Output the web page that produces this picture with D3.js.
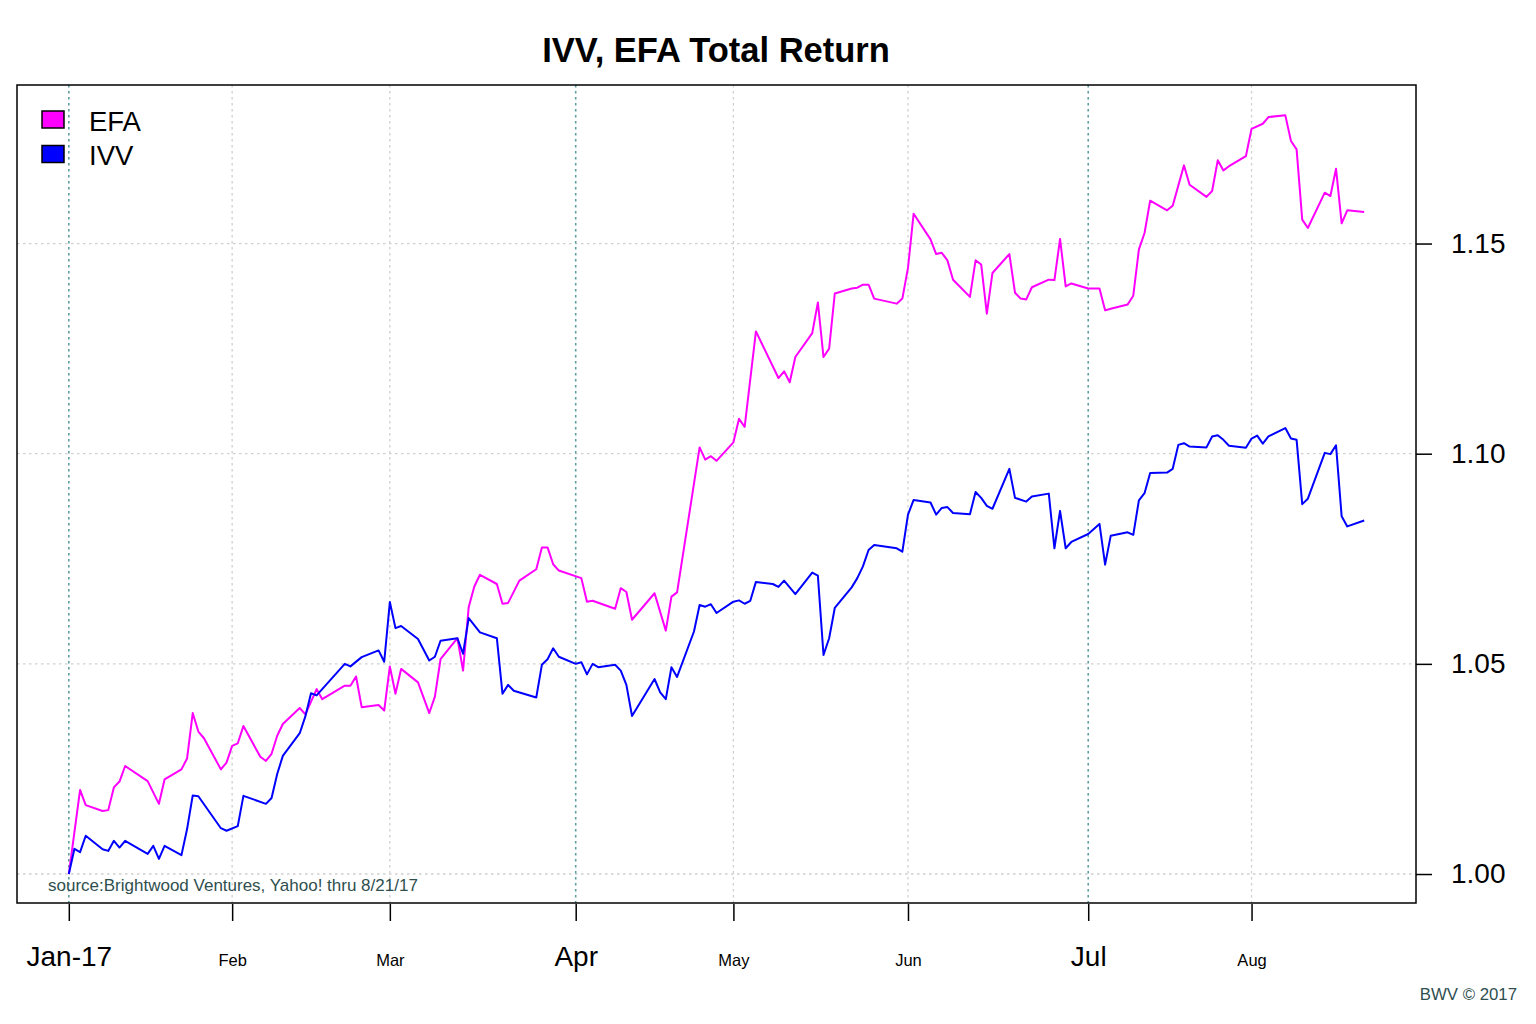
<!DOCTYPE html>
<html>
<head>
<meta charset="utf-8">
<script src="https://cdnjs.cloudflare.com/ajax/libs/d3/7.8.5/d3.min.js"></script>
<style>
  body { margin: 0; background: #fff; }
  svg text { font-family: "Liberation Sans", Arial, sans-serif; }
</style>
</head>
<body>
<svg class="svg1" width="1536" height="1024"></svg>
<script>

// DATA (growth of 1)

var efaDates = [
  "2017-01-03","2017-01-05","2017-01-06","2017-01-09","2017-01-10","2017-01-11","2017-01-12","2017-01-13","2017-01-17","2017-01-19",
  "2017-01-20","2017-01-23","2017-01-24","2017-01-25","2017-01-26","2017-01-27","2017-01-30","2017-01-31",
  "2017-02-01","2017-02-02","2017-02-03","2017-02-06","2017-02-07","2017-02-08","2017-02-09","2017-02-10","2017-02-13","2017-02-14",
  "2017-02-16","2017-02-17","2017-02-21","2017-02-22","2017-02-23","2017-02-24","2017-02-27","2017-02-28",
  "2017-03-01","2017-03-02","2017-03-03","2017-03-06","2017-03-08","2017-03-09","2017-03-10","2017-03-13","2017-03-14","2017-03-15",
  "2017-03-16","2017-03-17","2017-03-20","2017-03-21","2017-03-22","2017-03-24","2017-03-27","2017-03-28","2017-03-29","2017-03-30","2017-03-31",
  "2017-04-04","2017-04-05","2017-04-06","2017-04-10","2017-04-11","2017-04-12","2017-04-13","2017-04-17","2017-04-19","2017-04-20",
  "2017-04-21","2017-04-25","2017-04-26","2017-04-27","2017-04-28",
  "2017-05-01","2017-05-02","2017-05-03","2017-05-05","2017-05-09","2017-05-10","2017-05-11","2017-05-12","2017-05-15","2017-05-16",
  "2017-05-17","2017-05-18","2017-05-19","2017-05-22","2017-05-23","2017-05-24","2017-05-25","2017-05-26","2017-05-30","2017-05-31",
  "2017-06-01","2017-06-02","2017-06-05","2017-06-06","2017-06-07","2017-06-08","2017-06-09","2017-06-12","2017-06-13","2017-06-14",
  "2017-06-15","2017-06-16","2017-06-19","2017-06-20","2017-06-21","2017-06-22","2017-06-23","2017-06-26","2017-06-27","2017-06-28",
  "2017-06-29","2017-06-30",
  "2017-07-03","2017-07-05","2017-07-06","2017-07-07","2017-07-10","2017-07-11","2017-07-12","2017-07-13","2017-07-14","2017-07-17",
  "2017-07-18","2017-07-20","2017-07-21","2017-07-24","2017-07-25","2017-07-26","2017-07-27","2017-07-28","2017-07-31",
  "2017-08-01","2017-08-03","2017-08-04","2017-08-07","2017-08-08","2017-08-09","2017-08-10","2017-08-11","2017-08-14","2017-08-15",
  "2017-08-16","2017-08-17","2017-08-18","2017-08-21"
];
var efaValues = [
  1.0000,1.0200,1.0164,1.0150,1.0152,1.0206,1.0220,1.0257,1.0221,1.0167,
  1.0225,1.0249,1.0275,1.0383,1.0339,1.0323,1.0249,1.0265,
  1.0305,1.0311,1.0352,1.0279,1.0269,1.0286,1.0329,1.0357,1.0395,1.0380,
  1.0440,1.0416,1.0448,1.0448,1.0470,1.0397,1.0402,1.0389,
  1.0494,1.0429,1.0488,1.0456,1.0383,1.0422,1.0511,1.0561,1.0484,1.0635,
  1.0684,1.0712,1.0690,1.0643,1.0645,1.0698,1.0725,1.0777,1.0777,1.0737,1.0722,
  1.0704,1.0648,1.0650,1.0631,1.0680,1.0671,1.0605,1.0668,1.0579,1.0660,
  1.0670,1.1015,1.0986,1.0994,1.0983,
  1.1027,1.1083,1.1064,1.1291,1.1180,1.1196,1.1170,1.1230,1.1287,1.1360,
  1.1230,1.1250,1.1381,1.1393,1.1395,1.1402,1.1402,1.1369,1.1357,1.1369,
  1.1442,1.1571,1.1510,1.1475,1.1478,1.1460,1.1414,1.1373,1.1460,1.1450,
  1.1333,1.1430,1.1475,1.1383,1.1369,1.1367,1.1396,1.1414,1.1413,1.1511,
  1.1398,1.1405,
  1.1393,1.1393,1.1341,1.1345,1.1355,1.1376,1.1486,1.1525,1.1602,1.1579,
  1.1590,1.1686,1.1640,1.1611,1.1625,1.1698,1.1674,1.1684,1.1708,
  1.1773,1.1785,1.1801,1.1805,1.1744,1.1724,1.1557,1.1537,1.1621,1.1613,
  1.1678,1.1548,1.1579,1.1575
];

var ivvDates = [
  "2017-01-03","2017-01-04","2017-01-05","2017-01-06","2017-01-09","2017-01-10","2017-01-11","2017-01-12","2017-01-13","2017-01-17",
  "2017-01-18","2017-01-19","2017-01-20","2017-01-23","2017-01-24","2017-01-25","2017-01-26","2017-01-30","2017-01-31",
  "2017-02-02","2017-02-03","2017-02-07","2017-02-08","2017-02-09","2017-02-10","2017-02-13","2017-02-14","2017-02-15","2017-02-16",
  "2017-02-21","2017-02-22","2017-02-24","2017-02-27","2017-02-28",
  "2017-03-01","2017-03-02","2017-03-03","2017-03-06","2017-03-08","2017-03-09","2017-03-10","2017-03-13","2017-03-14","2017-03-15",
  "2017-03-17","2017-03-20","2017-03-21","2017-03-22","2017-03-23","2017-03-27","2017-03-28","2017-03-29","2017-03-30","2017-03-31",
  "2017-04-03","2017-04-04","2017-04-05","2017-04-06","2017-04-07","2017-04-10","2017-04-11","2017-04-12","2017-04-13","2017-04-17",
  "2017-04-18","2017-04-19","2017-04-20","2017-04-21","2017-04-24","2017-04-25","2017-04-26","2017-04-27","2017-04-28",
  "2017-05-01","2017-05-02","2017-05-03","2017-05-04","2017-05-05","2017-05-08","2017-05-09","2017-05-10","2017-05-12","2017-05-15",
  "2017-05-16","2017-05-17","2017-05-18","2017-05-19","2017-05-22","2017-05-23","2017-05-24","2017-05-25","2017-05-26","2017-05-30","2017-05-31",
  "2017-06-01","2017-06-02","2017-06-05","2017-06-06","2017-06-07","2017-06-08","2017-06-09","2017-06-12","2017-06-13","2017-06-14",
  "2017-06-15","2017-06-16","2017-06-19","2017-06-20","2017-06-22","2017-06-23","2017-06-26","2017-06-27","2017-06-28","2017-06-29","2017-06-30",
  "2017-07-03","2017-07-05","2017-07-06","2017-07-07","2017-07-10","2017-07-11","2017-07-12","2017-07-13","2017-07-14","2017-07-17",
  "2017-07-18","2017-07-19","2017-07-20","2017-07-21","2017-07-24","2017-07-25","2017-07-26","2017-07-27","2017-07-28","2017-07-31",
  "2017-08-01","2017-08-02","2017-08-03","2017-08-04","2017-08-07","2017-08-08","2017-08-09","2017-08-10","2017-08-11","2017-08-14",
  "2017-08-15","2017-08-16","2017-08-17","2017-08-18","2017-08-21"
];
var ivvValues = [
  1.0000,1.0060,1.0052,1.0091,1.0059,1.0055,1.0079,1.0063,1.0079,1.0048,
  1.0067,1.0036,1.0067,1.0045,1.0107,1.0187,1.0185,1.0109,1.0103,
  1.0114,1.0186,1.0167,1.0181,1.0238,1.0281,1.0335,1.0375,1.0430,1.0425,
  1.0500,1.0494,1.0516,1.0532,1.0505,
  1.0647,1.0585,1.0590,1.0559,1.0508,1.0517,1.0555,1.0561,1.0524,1.0609,
  1.0575,1.0561,1.0429,1.0450,1.0436,1.0420,1.0498,1.0511,1.0537,1.0517,
  1.0500,1.0504,1.0475,1.0500,1.0492,1.0498,1.0484,1.0450,1.0376,1.0464,
  1.0432,1.0416,1.0492,1.0469,1.0577,1.0640,1.0636,1.0642,1.0621,
  1.0648,1.0651,1.0643,1.0650,1.0695,1.0690,1.0683,1.0698,1.0666,1.0717,
  1.0710,1.0521,1.0561,1.0633,1.0682,1.0704,1.0732,1.0771,1.0783,1.0775,1.0767,
  1.0855,1.0890,1.0884,1.0855,1.0871,1.0873,1.0859,1.0856,1.0909,1.0895,
  1.0876,1.0869,1.0964,1.0895,1.0886,1.0898,1.0905,1.0775,1.0864,1.0775,1.0790,
  1.0809,1.0833,1.0736,1.0805,1.0813,1.0807,1.0889,1.0906,1.0954,1.0955,
  1.0964,1.1021,1.1025,1.1017,1.1015,1.1041,1.1044,1.1033,1.1019,1.1014,
  1.1036,1.1043,1.1024,1.1041,1.1061,1.1036,1.1033,1.0880,1.0893,1.1002,
  1.0999,1.1020,1.0851,1.0827,1.0841
];

// x axis ticks: first trading day of each month, quarters are the big ones
var tickDates  = ["2017-01-03","2017-02-01","2017-03-01","2017-04-03","2017-05-01","2017-06-01","2017-07-03","2017-08-01"];
var tickLabels = ["Jan-17","Feb","Mar","Apr","May","Jun","Jul","Aug"];
var tickMajor  = [true, false, false, true, false, false, true, false];

var yTicks = [1.00, 1.05, 1.10, 1.15];

var seriesNames  = ["EFA", "IVV"];
var seriesColors = ["#ff00ff", "#0000ff"];

// FUNCTIONS

var parseDate = d3.timeParse("%Y-%m-%d");

var efa = efaDates.map(function(d, i) { return {date: parseDate(d), value: efaValues[i]}; });
var ivv = ivvDates.map(function(d, i) { return {date: parseDate(d), value: ivvValues[i]}; });

var plotLeft = 17, plotRight = 1416, plotTop = 85, plotBottom = 903;

// plot range is the data range padded 4% each side (a bit less below)
var allDates = efa.concat(ivv).map(function(d) { return d.date; });
var allVals = efa.concat(ivv).map(function(d) { return d.value; });
var dExt = d3.extent(allDates);
var vExt = d3.extent(allVals);
var dPad = (dExt[1] - dExt[0]) * 0.04;
var vPad = (vExt[1] - vExt[0]) * 0.04;

var xScale = d3.scaleTime()
  .domain([new Date(+dExt[0] - dPad), new Date(+dExt[1] + dPad)])
  .range([plotLeft, plotRight]);

var yScale = d3.scaleLinear()
  .domain([vExt[0] - vPad * 0.955, vExt[1] + vPad])
  .range([plotBottom, plotTop]);

var svg = d3.select(".svg1");

// title
svg.append("text")
  .attr("x", 716)
  .attr("y", 62)
  .attr("text-anchor", "middle")
  .style("font-size", "34.5px")
  .style("font-weight", "bold")
  .text("IVV, EFA Total Return");

// GRID

svg.append("g")
  .selectAll("line")
  .data(yTicks)
  .enter()
  .append("line")
  .attr("x1", plotLeft)
  .attr("x2", plotRight)
  .attr("y1", function(d) { return yScale(d); })
  .attr("y2", function(d) { return yScale(d); })
  .style("stroke", "#cfcfcf")
  .style("stroke-width", 1.3)
  .style("stroke-dasharray", "2.5,3.5");

svg.append("g")
  .selectAll("line")
  .data(tickDates)
  .enter()
  .append("line")
  .attr("x1", function(d) { return xScale(parseDate(d)); })
  .attr("x2", function(d) { return xScale(parseDate(d)); })
  .attr("y1", plotTop)
  .attr("y2", plotBottom)
  .style("stroke", function(d, i) { return tickMajor[i] ? "#5f9ea0" : "#cfcfcf"; })
  .style("stroke-width", function(d, i) { return tickMajor[i] ? 1.6 : 1.3; })
  .style("stroke-dasharray", "2.5,3.5");

// LINES

var line = d3.line()
  .x(function(d) { return xScale(d.date); })
  .y(function(d) { return yScale(d.value); });

[efa, ivv].forEach(function(s, i) {
  svg.append("path")
    .datum(s)
    .attr("d", line)
    .style("fill", "none")
    .style("stroke", seriesColors[i])
    .style("stroke-width", 2)
    .style("stroke-linejoin", "round");
});

// box
svg.append("rect")
  .attr("x", plotLeft)
  .attr("y", plotTop)
  .attr("width", plotRight - plotLeft)
  .attr("height", plotBottom - plotTop)
  .style("fill", "none")
  .style("stroke", "#000")
  .style("stroke-width", 1.5);

// AXES

var yAxis = d3.axisRight(yScale)
  .tickValues(yTicks)
  .tickSize(16)
  .tickPadding(19)
  .tickFormat(d3.format(".2f"));

var gy = svg.append("g")
  .attr("transform", `translate(${plotRight}, 0)`)
  .call(yAxis);
gy.select(".domain").remove();
gy.selectAll("line").style("stroke", "#000").style("stroke-width", 1.5);
gy.selectAll("text")
  .style("font-size", "28px")
  .style("fill", "#000")
  .style("font-family", "'Liberation Sans', Arial, sans-serif");

var xAxis = d3.axisBottom(xScale)
  .tickValues(tickDates.map(parseDate))
  .tickSize(17)
  .tickPadding(0)
  .tickFormat(function(d, i) { return tickLabels[i]; });

var gx = svg.append("g")
  .attr("transform", `translate(0, ${plotBottom + 1})`)
  .call(xAxis);
gx.select(".domain").remove();
gx.selectAll("line").style("stroke", "#000").style("stroke-width", 1.5);
gx.selectAll("text")
  .attr("y", 62)
  .attr("dy", null)
  .style("fill", "#000")
  .style("font-family", "'Liberation Sans', Arial, sans-serif")
  .style("font-size", function(d, i) { return tickMajor[i] ? "28px" : "16.5px"; });

// LEGEND

var legend = svg.append("g");
seriesNames.forEach(function(name, i) {
  legend.append("rect")
    .attr("x", 42)
    .attr("y", 111 + i * 34.5)
    .attr("width", 22)
    .attr("height", 17)
    .style("fill", seriesColors[i])
    .style("stroke", "#000")
    .style("stroke-width", 1.5);
  legend.append("text")
    .attr("x", 89)
    .attr("y", 130.5 + i * 34.5)
    .style("font-size", "27.5px")
    .text(name);
});

// notes
svg.append("text")
  .attr("x", 48)
  .attr("y", 891)
  .style("font-size", "17px")
  .style("fill", "#2f4f4f")
  .text("source:Brightwood Ventures, Yahoo! thru 8/21/17");

svg.append("text")
  .attr("x", 1517)
  .attr("y", 1000)
  .attr("text-anchor", "end")
  .style("font-size", "16.8px")
  .style("fill", "#2f4f4f")
  .text("BWV \u00a9 2017");

</script>
</body>
</html>
